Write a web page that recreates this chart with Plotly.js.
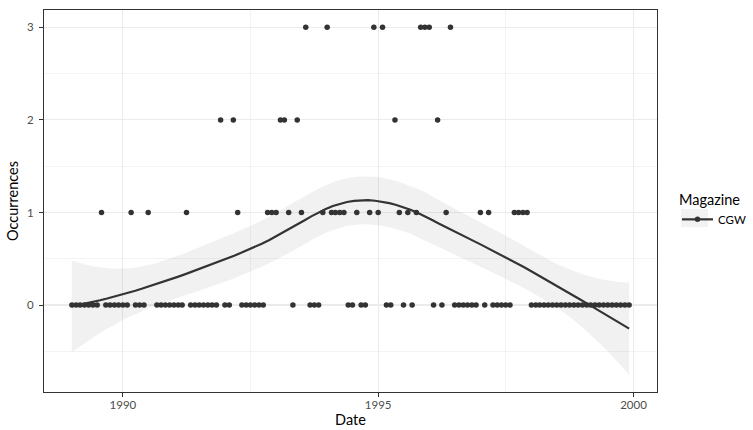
<!DOCTYPE html>
<html><head><meta charset="utf-8">
<script src="https://cdn.plot.ly/plotly-3.0.1.min.js"></script>
<style>html,body{margin:0;padding:0;background:#fff}#chart{width:753px;height:430px}</style>
</head><body><div id="chart"></div>
<script>
// Monthly occurrences (Jan..Dec) per year; null = no issue recorded
const years = [1989,1990,1991,1992,1993,1994,1995,1996,1997,1998,1999];
const occ1989 = [0,0,0,0,0,0,0,1,0,0,0,0];
const occ1990 = [0,0,1,0,0,0,1,null,0,0,0,0];
const occ1991 = [0,0,0,1,0,0,0,0,0,0,0,2];
const occ1992 = [0,0,2,1,0,0,0,0,0,0,1,1];
const occ1993 = [1,2,2,1,0,2,1,3,0,0,0,1];
const occ1994 = [3,1,1,1,1,0,0,1,0,0,1,3];
const occ1995 = [1,3,0,0,2,1,0,1,0,1,3,3];
const occ1996 = [3,0,2,0,1,3,0,0,0,0,0,0];
const occ1997 = [1,0,1,0,0,0,0,0,1,1,1,1];
const occ1998 = [0,0,0,0,0,0,0,0,0,0,0,0];
const occ1999 = [0,0,0,0,0,0,0,0,0,0,0,0];
const seriesName = "CGW";
const legendTitle = "Magazine";
const xTickVals = ["1990-01-01","1995-01-01","2000-01-01"];
const xTickText = ["1990","1995","2000"];
const yTickVals = [0,1,2,3];

const occByYear = [occ1989,occ1990,occ1991,occ1992,occ1993,occ1994,occ1995,occ1996,occ1997,occ1998,occ1999];
const dates = [], vals = [], tnum = [];
years.forEach((yr,i)=>{
  occByYear[i].forEach((v,m)=>{
    if (v===null) return;
    const ds = yr + "-" + String(m+1).padStart(2,"0") + "-01";
    dates.push(ds); vals.push(v);
    tnum.push(Date.UTC(yr,m,1)/86400000);
  });
});

// ---- loess (span .75, degree 2) like ggplot2::geom_smooth ----
function loessRow(xs, x0, span){
  const n = xs.length, q = Math.floor(n*span);
  const d = xs.map(x=>Math.abs(x-x0));
  const sd = d.slice().sort((a,b)=>a-b);
  const h = sd[q-1];
  const w = d.map(v=> v<h ? Math.pow(1-Math.pow(v/h,3),3) : 0);
  const S=[0,0,0,0,0];
  const u = xs.map(x=>(x-x0)/h);
  for(let i=0;i<n;i++){ let p=w[i]; for(let k=0;k<5;k++){ S[k]+=p; p*=u[i]; } }
  const M=[[S[0],S[1],S[2]],[S[1],S[2],S[3]],[S[2],S[3],S[4]]];
  const det = M[0][0]*(M[1][1]*M[2][2]-M[1][2]*M[2][1]) - M[0][1]*(M[1][0]*M[2][2]-M[1][2]*M[2][0]) + M[0][2]*(M[1][0]*M[2][1]-M[1][1]*M[2][0]);
  const a0 = (M[1][1]*M[2][2]-M[1][2]*M[2][1])/det;
  const a1 = -(M[0][1]*M[2][2]-M[0][2]*M[2][1])/det;
  const a2 = (M[0][1]*M[1][2]-M[0][2]*M[1][1])/det;
  return u.map((ui,i)=> w[i]*(a0 + a1*ui + a2*ui*ui));
}
const n = tnum.length;
const Ld = tnum.map(x0=>loessRow(tnum,x0,0.75));
const yhat = Ld.map(r=>r.reduce((s,l,j)=>s+l*vals[j],0));
let rss=0; for(let i=0;i<n;i++){ rss += Math.pow(vals[i]-yhat[i],2); }
const A = Ld.map((r,i)=>r.map((l,j)=>(i===j?1:0)-l));
const B = [];
for(let i=0;i<n;i++){ B.push(new Array(n).fill(0)); }
for(let i=0;i<n;i++) for(let j=i;j<n;j++){ let s=0; for(let k=0;k<n;k++) s+=A[k][i]*A[k][j]; B[i][j]=s; B[j][i]=s; }
let one=0, two=0;
for(let i=0;i<n;i++){ one+=B[i][i]; for(let j=0;j<n;j++) two+=B[i][j]*B[i][j]; }
const sig = Math.sqrt(rss/one);
const df = one*one/two;
const z = 1.959963985;
const tq = z + (z**3+z)/(4*df) + (5*z**5+16*z**3+3*z)/(96*df*df) + (3*z**7+19*z**5+17*z**3-15*z)/(384*df**3);

const tmin = Math.min(...tnum), tmax = Math.max(...tnum);
const gx=[], gy=[], glo=[], ghi=[];
for(let k=0;k<80;k++){
  const x0 = tmin + (tmax-tmin)*k/79;
  const r = loessRow(tnum,x0,0.75);
  const f = r.reduce((s,l,j)=>s+l*vals[j],0);
  const se = sig*Math.sqrt(r.reduce((s,l)=>s+l*l,0));
  gx.push(new Date(x0*86400000).toISOString().slice(0,19).replace("T"," "));
  gy.push(f); glo.push(f-tq*se); ghi.push(f+tq*se);
}
const ylo = Math.min(0,...vals,...glo), yhi = Math.max(3,...vals,...ghi);
const ypad = 0.05*(yhi-ylo);
const xpad = 0.05*(tmax-tmin);
const toD = d=>new Date(d*86400000).toISOString().slice(0,19).replace("T"," ");
const midMinor = [toD((Date.UTC(1990,0,1)+Date.UTC(1995,0,1))/2/86400000), toD((Date.UTC(1995,0,1)+Date.UTC(2000,0,1))/2/86400000)];

const col = "#333333";
const FONT = "Lato";
const W=753, H=430, ML=44, MR=96, MT=10, MB=38;
const pw = W-ML-MR, ph = H-MT-MB;
const px2x = p=>(p-ML)/pw, py2y = p=>(H-MB-p)/ph;
const traces = [
  {x: gx.concat(gx.slice().reverse()), y: ghi.concat(glo.slice().reverse()), type:"scatter", mode:"lines",
   fill:"toself", fillcolor:"rgba(153,153,153,0.14)", line:{width:0}, showlegend:false, hoverinfo:"skip"},
  {x: dates, y: vals, type:"scatter", mode:"markers", marker:{color:col, size:5.5}, showlegend:false},
  {x: gx, y: gy, type:"scatter", mode:"lines", line:{color:col, width:2.2}, showlegend:false},
  {x:[null], y:[null], type:"scatter", mode:"lines+markers", name: seriesName,
   line:{color:col, width:2.2}, marker:{color:col, size:5.5}, showlegend:true}
];
const layout = {
  width:W, height:H,
  margin:{l:ML, r:MR, t:MT, b:MB, autoexpand:false},
  paper_bgcolor:"#fff", plot_bgcolor:"#fff",
  font:{family:FONT, color:"#000"},
  showlegend:true,
  xaxis:{type:"date", range:[toD(tmin-xpad), toD(tmax+xpad)], tickmode:"array", tickvals:xTickVals, ticktext:xTickText,
    showgrid:true, gridcolor:"#ebebeb", gridwidth:1.1, zeroline:false,
    minor:{tickmode:"array", tickvals:midMinor, showgrid:true, gridcolor:"#ebebeb", gridwidth:0.6},
    showline:true, mirror:true, linecolor:col, linewidth:1, ticks:"outside", ticklen:4, tickcolor:col, tickwidth:1,
    ticklabelstandoff:-2,
    tickfont:{size:11.5, color:"#4d4d4d", family:FONT},
    title:{text:"Date", font:{size:14.5, color:"#000", family:FONT}, standoff:5}},
  yaxis:{range:[ylo-ypad, yhi+ypad], tickmode:"array", tickvals:yTickVals,
    showgrid:true, gridcolor:"#ebebeb", gridwidth:1.1, zeroline:false,
    minor:{tickmode:"array", tickvals:[-0.5,0.5,1.5,2.5], showgrid:true, gridcolor:"#ebebeb", gridwidth:0.6},
    showline:true, mirror:true, linecolor:col, linewidth:1, ticks:"outside", ticklen:4, tickcolor:col, tickwidth:1,
    ticklabelstandoff:3,
    tickfont:{size:11.5, color:"#4d4d4d", family:FONT},
    title:{text:"Occurrences", font:{size:14.5, color:"#000", family:FONT}, standoff:4}},
  legend:{x:px2x(677), xanchor:"left", y:py2y(186), yanchor:"top", bgcolor:"rgba(0,0,0,0)",
    title:{text:legendTitle, font:{size:14.5, color:"#000", family:FONT}},
    font:{size:11.5, color:"#000", family:FONT}, itemwidth:31, tracegroupgap:0},
  shapes:[{type:"rect", xref:"paper", yref:"paper", x0:px2x(681), x1:px2x(708), y0:py2y(227), y1:py2y(209),
    fillcolor:"#f2f2f2", line:{width:0}, layer:"above"}]
};
Plotly.newPlot("chart", traces, layout, {displayModeBar:false, staticPlot:true});
</script></body></html>
